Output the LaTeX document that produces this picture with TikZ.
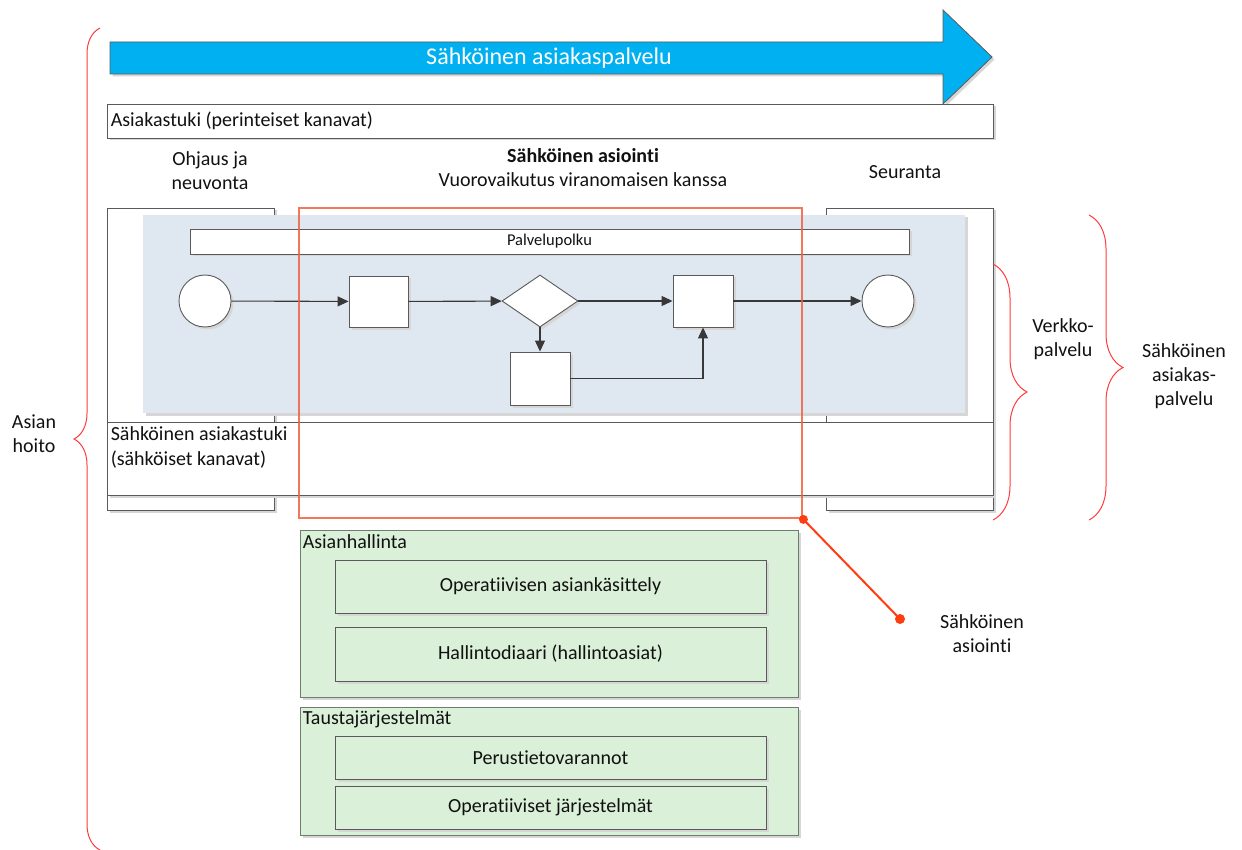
\documentclass[tikz,border=0pt]{standalone}
\usepackage{fontspec}
\setmainfont{Carlito}[Ligatures=NoCommon]
\usetikzlibrary{decorations.pathreplacing,shadows,arrows.meta,shapes.geometric}

\definecolor{arrowblue}{HTML}{00B0F0}
\definecolor{lineg}{HTML}{5A5A5A}
\definecolor{flowg}{HTML}{383838}
\definecolor{paleblue}{HTML}{DFE8F1}
\definecolor{palegreen}{HTML}{DAF0D8}
\definecolor{greenline}{HTML}{6F7D6F}
\definecolor{braceRed}{HTML}{FF3B3B}
\definecolor{frameRed}{HTML}{F0603F}
\definecolor{pinRed}{HTML}{FF3D10}
\definecolor{txt}{HTML}{111111}

\tikzset{
  sh/.style={drop shadow={shadow xshift=2.5pt,shadow yshift=-2.5pt,fill=black!16,opacity=1}},
  plain/.style={draw=lineg, line width=0.9pt, fill=white, inner sep=0pt},
  greenbox/.style={draw=greenline, line width=0.9pt, fill=palegreen, inner sep=0pt},
  innerbox/.style={draw=lineg, line width=0.9pt, fill=palegreen, inner sep=0pt,
    minimum width=431pt},
  flow/.style={draw=flowg, line width=1.1pt, -{Triangle[length=11pt,width=10pt]}},
  task/.style={draw=lineg, line width=0.9pt, fill=white, inner sep=0pt, sh},
  event/.style={circle, draw=lineg, line width=0.9pt, fill=white, inner sep=0pt,
    minimum size=52pt, sh},
  bracket/.style={draw=braceRed, line width=1pt, decorate},
  lbl/.style={align=center, inner sep=0pt, text=txt},
}

\begin{document}
\begin{tikzpicture}[x=1pt, y=-1pt, font=\fontsize{20}{24}\selectfont]
\useasboundingbox (0,0) rectangle (1242,850);

% the big service arrow
\path[fill=arrowblue, draw=lineg, line width=0.8pt, sh]
  (110,42) -- (943,42) -- (943,10) -- (992,57) -- (943,104) -- (943,74) -- (110,74) -- cycle;
\node[lbl, text=white, font=\fontsize{24}{28}\selectfont] (arrowtxt) at (549,58) {Sähköinen asiakaspalvelu};

% traditional channels
\node[plain, sh, minimum width=886pt, minimum height=34pt] (trad) at (550,121) {};
\node[anchor=west, inner sep=0pt, text=txt] (tradtxt) at ([xshift=4pt]trad.west) {Asiakastuki (perinteiset kanavat)};

% column headings
\node[lbl] (ohj) at (210,171) {Ohjaus ja\\neuvonta};
\node[lbl] (asi) at (583,167.5) {\textbf{Sähköinen asiointi}\\Vuorovaikutus viranomaisen kanssa};
\node[lbl] (seu) at (905,172) {Seuranta};

% side columns
\node[plain, sh, minimum width=167pt, minimum height=302pt] (colL) at (190.5,359) {};
\node[plain, sh, minimum width=167pt, minimum height=302pt] (colR) at (909.5,359) {};

% service path lane
\node[fill=paleblue, sh, inner sep=0pt, minimum width=822pt, minimum height=198pt] (lane) at (554,314) {};
\node[plain, sh, minimum width=719pt, minimum height=25pt, text=txt,
  font=\fontsize{16.5}{19}\selectfont] (path) at (549.5,241.5) {Palvelupolku};

% process
\node[event] (start) at (205,301) {};
\node[task, minimum width=59pt, minimum height=51pt] (t1) at (378.5,301.5) {};
\node[diamond, draw=lineg, line width=0.9pt, fill=white, inner sep=0pt,
  minimum width=76pt, minimum height=52pt, sh] (gw) at (540,301) {};
\node[task, minimum width=60pt, minimum height=52pt] (t3) at (703,301) {};
\node[task, minimum width=60pt, minimum height=53pt] (t2) at (540,378.5) {};
\node[event] (end) at (888,301) {};

\draw[flow] (start) -- (t1);
\draw[flow] (t1) -- (gw);
\draw[flow] (gw) -- (t3);
\draw[flow] (t3) -- (end);
\draw[flow] (gw) -- (t2);
\draw[flow] (t2.east) -| (t3.south);

% electronic channels
\node[plain, sh, minimum width=886pt, minimum height=73pt] (etuki) at (550,458.5) {};
\node[anchor=north west, align=left, inner sep=0pt, text=txt,
  font=\fontsize{20}{25}\selectfont] (etukitxt) at ([xshift=4pt,yshift=-5pt]etuki.north west)
  {Sähköinen asiakastuki\\(sähköiset kanavat)};

% e-service frame and its callout
\node[draw=frameRed, draw opacity=0.85, line width=2.8pt, inner sep=0pt,
  minimum width=503pt, minimum height=310pt] (frame) at (550.5,363) {};
\coordinate (pin) at (900,619);
\draw[pinRed, line width=2pt] (frame.south east) -- (pin);
\fill[pinRed] (frame.south east) circle (4.5);
\fill[pinRed] (pin) circle (5);
\node[lbl] (pinlbl) at (982,633.5) {Sähköinen\\asiointi};

% case management
\node[greenbox, sh, minimum width=498pt, minimum height=167pt] (ah) at (549,613.5) {};
\node[anchor=north west, inner sep=0pt, text=txt] (ahtxt) at ([xshift=3pt,yshift=-5pt]ah.north west) {Asianhallinta};
\node[innerbox, sh, minimum height=53pt, text=txt] (oper) at (550.5,586.5) {Operatiivisen asiankäsittely};
\node[innerbox, sh, minimum height=54pt, text=txt] (hall) at (550.5,654) {Hallintodiaari (hallintoasiat)};

% background systems
\node[greenbox, sh, minimum width=498pt, minimum height=128pt] (tj) at (549,771) {};
\node[anchor=north west, inner sep=0pt, text=txt] (tjtxt) at ([xshift=3pt,yshift=-4pt]tj.north west) {Taustajärjestelmät};
\node[innerbox, sh, minimum height=43pt, text=txt] (perus) at (550.5,757.5) {Perustietovarannot};
\node[innerbox, sh, minimum height=43pt, text=txt] (opj) at (550.5,807.5) {Operatiiviset järjestelmät};

% braces
\draw[bracket, decoration={brace, amplitude=26pt}] (100,850) -- (100,28);
\node[lbl] (hoito) at (34,433.5) {Asian\\hoito};
\draw[bracket, decoration={brace, amplitude=34pt}] (993,264) -- (993,520);
\node[lbl] (verkko) at (1063,339.5) {Verkko-\\palvelu};
\draw[bracket, decoration={brace, amplitude=34pt}] (1089,215) -- (1089,520);
\node[lbl] (sap) at (1184,376) {Sähköinen\\asiakas-\\palvelu};
\end{tikzpicture}
\end{document}
